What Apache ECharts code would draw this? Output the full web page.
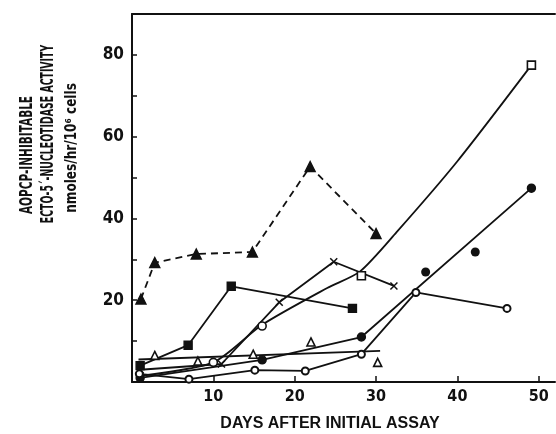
<!DOCTYPE html>
<html>
<head>
<meta charset="utf-8">
<script src="https://cdn.jsdelivr.net/npm/echarts@6/dist/echarts.min.js"></script>
<style>
html,body{margin:0;padding:0;background:#fff;}
#c{width:556px;height:434px;}
</style>
</head>
<body>
<div id="c"></div>
<script>
// ---- data ----
var xTicks = [10, 20, 30, 40, 50];
var yTicks = [10, 20, 30, 40, 50, 60, 70, 80];
var yLabels = [20, 40, 60, 80];

var filledTriangleDashed = [[1.1, 20.3], [2.8, 29.2], [7.9, 31.3], [14.8, 31.8], [21.9, 52.7], [30, 36.3]];
var filledSquare = [[1, 4], [6.9, 9], [12.2, 23.4], [27.1, 18]];
var crosses = [[1, 3], [11, 4.4], [18.1, 19.5], [24.8, 29.4], [32.2, 23.5]];
var openSquareCurve = [[1, 1.5], [10, 4.8], [16, 14], [24, 23], [28, 27], [32.5, 36.6], [40, 54], [49.1, 77.5]];
var openSquarePts = [[28.2, 26], [49.1, 77.5]];
var openCircleOnCurve = [[10, 4.8], [16, 13.7]];
var filledCircleLine = [[1, 1], [16, 5.4], [28.2, 11], [49.1, 47.4]];
var filledCircleExtra = [[36.1, 26.9], [42.2, 31.8]];
var openCircle = [[0.9, 2], [7, 0.7], [15.1, 2.9], [21.3, 2.7], [28.2, 6.8], [34.9, 21.9], [46.1, 18]];
var openTriangles = [[2.8, 6.5], [8.1, 5.1], [14.9, 6.8], [22, 9.8], [30.2, 4.8]];
var openTriangleLine = [[0.8, 5.5], [30.5, 7.6]];

var yTitle1 = 'AOPCP-INHIBITABLE';
var yTitle2 = 'ECTO-5\u00b4-NUCLEOTIDASE ACTIVITY';
var yTitle3 = 'nmoles/hr/10\u2076 cells';
var xTitle = 'DAYS AFTER INITIAL ASSAY';

// ---- chart ----
var INK = '#111';
var NARROW = "'Liberation Sans Narrow','DejaVu Sans Condensed','Liberation Sans',sans-serif";
var SANS = "'Liberation Sans','DejaVu Sans',sans-serif";
var crossPath = 'path://M0,0L10,10M10,0L0,10';

function lineSeries(data, symbol, size, opts) {
  var s = {
    type: 'line', data: data, symbol: symbol, symbolSize: size,
    showSymbol: symbol !== 'none', clip: false, animation: false, z: 3,
    lineStyle: { color: INK, width: 1.8 },
    itemStyle: { color: INK, borderColor: INK, borderWidth: 1.4, opacity: 1 }
  };
  if (opts) for (var k in opts) s[k] = opts[k];
  return s;
}
function scatterSeries(data, symbol, size, filled) {
  return {
    type: 'scatter', data: data, symbol: symbol, symbolSize: size, clip: false, animation: false, z: 4,
    itemStyle: { color: filled ? INK : '#fff', borderColor: INK, borderWidth: filled ? 0 : 1.6, opacity: 1 }
  };
}

var chart = echarts.init(document.getElementById('c'), null, { renderer: 'canvas' });
chart.setOption({
  backgroundColor: '#fff',
  animation: false,
  grid: { left: 132, top: 14, width: 423, height: 368 },
  xAxis: [{
    type: 'value', min: 0, max: 52, position: 'bottom',
    splitLine: { show: false },
    axisLine: { lineStyle: { color: INK, width: 2 } },
    axisTick: { inside: true, length: 6, customValues: xTicks, lineStyle: { color: INK, width: 1.5 } },
    axisLabel: { customValues: xTicks, margin: 7, color: INK, fontFamily: NARROW, fontWeight: 'bold', fontSize: 16 }
  }, {
    type: 'value', min: 0, max: 52, position: 'top',
    splitLine: { show: false },
    axisLine: { show: true, lineStyle: { color: INK, width: 2 } },
    axisTick: { show: false }, axisLabel: { show: false }
  }],
  yAxis: [{
    type: 'value', min: 0, max: 90,
    splitLine: { show: false },
    axisLine: { show: true, lineStyle: { color: INK, width: 2 } },
    axisTick: { inside: true, length: 5, customValues: yTicks, lineStyle: { color: INK, width: 1.5 } },
    axisLabel: { customValues: yLabels, margin: 8, color: INK, fontFamily: NARROW, fontWeight: 'bold', fontSize: 17 }
  }],
  graphic: [
    { type: 'text', x: 27, y: 155, rotation: Math.PI / 2, scaleX: 0.65, style: { text: yTitle1, fill: INK, font: 'bold 18px ' + NARROW, align: 'center', verticalAlign: 'middle' } },
    { type: 'text', x: 48, y: 134, rotation: Math.PI / 2, scaleX: 0.578, style: { text: yTitle2, fill: INK, font: 'bold 18px ' + NARROW, align: 'center', verticalAlign: 'middle' } },
    { type: 'text', x: 72, y: 148, rotation: Math.PI / 2, scaleX: 0.84, style: { text: yTitle3, fill: INK, font: 'bold 16px ' + NARROW, align: 'center', verticalAlign: 'middle' } },
    { type: 'text', x: 330, y: 424, style: { text: xTitle, fill: INK, font: 'bold 16px ' + SANS, align: 'center', verticalAlign: 'middle' } }
  ],
  series: [
    lineSeries(filledTriangleDashed, 'triangle', 10, { lineStyle: { color: INK, width: 1.8, type: [7, 5] } }),
    lineSeries(filledSquare, 'rect', 8),
    lineSeries(crosses, crossPath, 7, { itemStyle: { color: 'none', borderColor: INK, borderWidth: 1.5, opacity: 1 } }),
    lineSeries(openSquareCurve, 'none', 0, { smooth: 0.25 }),
    scatterSeries(openSquarePts, 'rect', 8, false),
    scatterSeries(openCircleOnCurve, 'circle', 8, false),
    lineSeries(filledCircleLine, 'circle', 8),
    scatterSeries(filledCircleExtra, 'circle', 9, true),
    lineSeries(openCircle, 'emptyCircle', 7, { itemStyle: { color: INK, borderColor: INK, borderWidth: 1.5, opacity: 1 } }),
    scatterSeries(openTriangles, 'triangle', 8, false),
    lineSeries(openTriangleLine, 'none', 0)
  ]
});
</script>
</body>
</html>
